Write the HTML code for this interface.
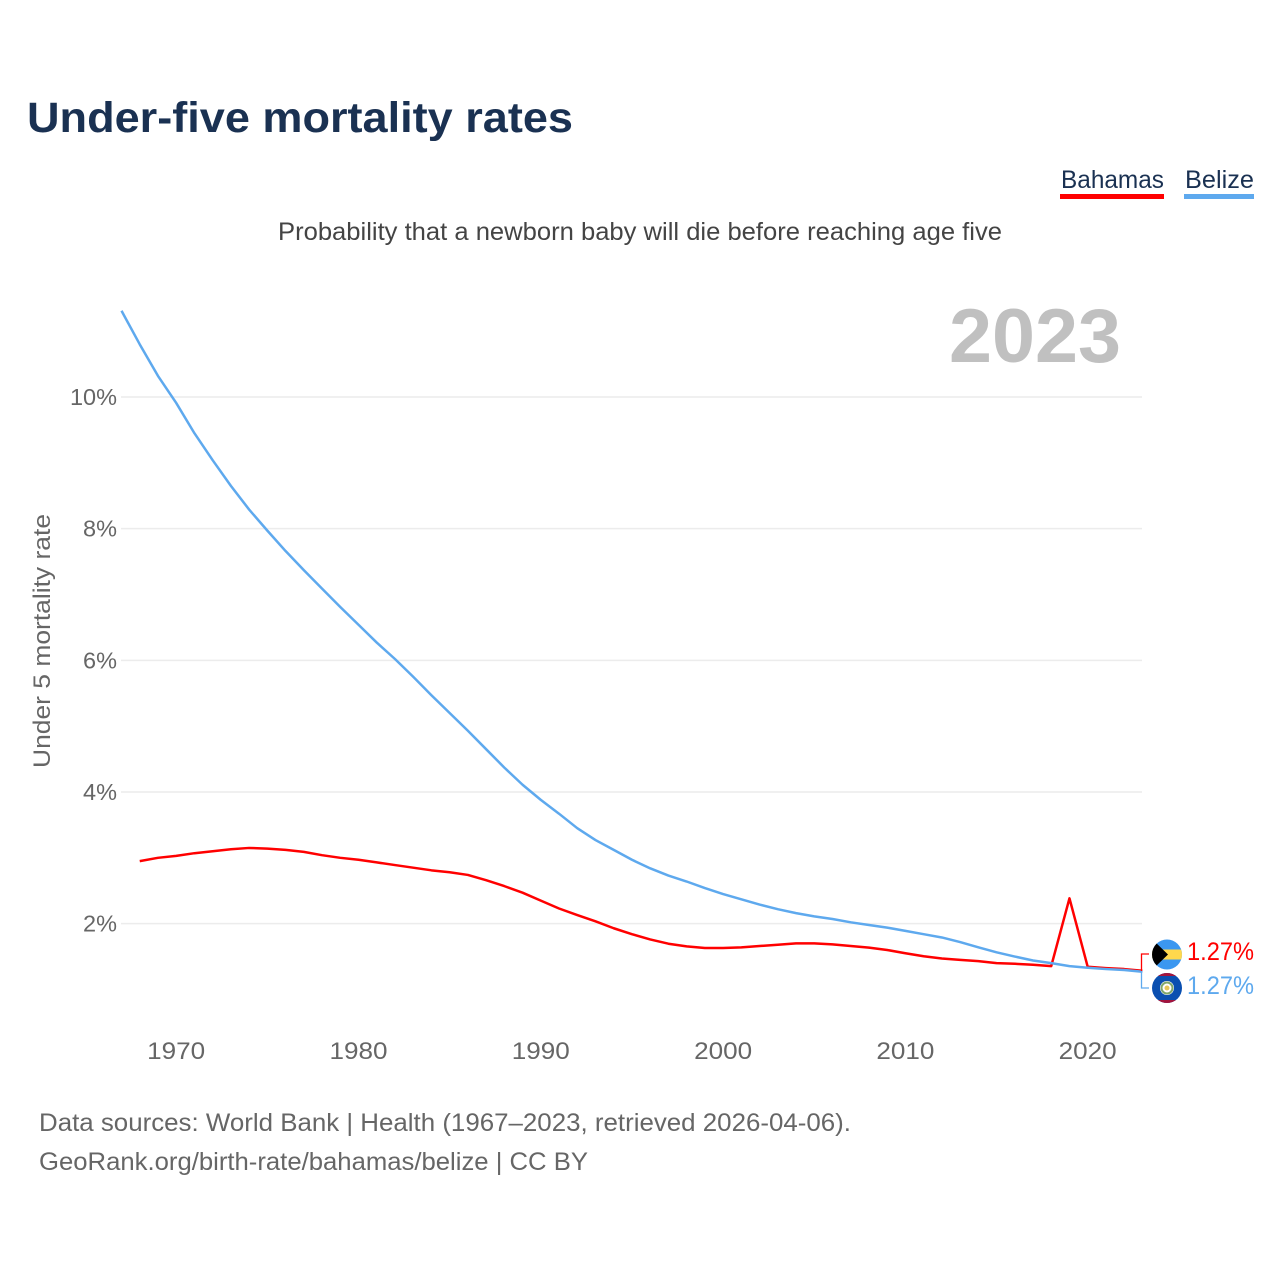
<!DOCTYPE html>
<html lang="en">
<head>
<meta charset="utf-8">
<title>Under-five mortality rates</title>
<style>
html,body{margin:0;padding:0;background:#fff;}
svg{display:block;}
text{font-family:"Liberation Sans",sans-serif;}
</style>
</head>
<body>
<svg id="chart" xmlns="http://www.w3.org/2000/svg" width="1280" height="1280" viewBox="0 0 1280 1280">
  <rect width="1280" height="1280" fill="#fff"/>
  <text x="27" y="132" font-size="43" font-weight="700" fill="#1a3152" textLength="546" lengthAdjust="spacingAndGlyphs">Under-five mortality rates</text>
  <text x="1061" y="188" font-size="25" fill="#1a3152" textLength="103" lengthAdjust="spacingAndGlyphs">Bahamas</text>
  <rect x="1060" y="194" width="104" height="5" fill="#ff0000"/>
  <text x="1185" y="188" font-size="25" fill="#1a3152" textLength="69" lengthAdjust="spacingAndGlyphs">Belize</text>
  <rect x="1184" y="194" width="70" height="5" fill="#5ea9ee"/>
  <text x="278" y="240" font-size="25" fill="#444" textLength="724" lengthAdjust="spacingAndGlyphs">Probability that a newborn baby will die before reaching age five</text>
  <text x="949" y="362" font-size="76" font-weight="700" fill="#c0c0c0" textLength="172" lengthAdjust="spacingAndGlyphs">2023</text>
  <text transform="translate(50,641) rotate(-90)" text-anchor="middle" font-size="24" fill="#666" textLength="254" lengthAdjust="spacingAndGlyphs">Under 5 mortality rate</text>
  <g id="grid"></g>
  <g id="yticks"></g>
  <g id="xticks"></g>
  <g id="lines"></g>

  <polyline points="1149,954 1141.5,954 1141.5,971" fill="none" stroke="#ff0000" stroke-width="1.3"/>
  <polyline points="1141.5,971 1141.5,988 1149,988" fill="none" stroke="#5ea9ee" stroke-width="1.3"/>

  <defs>
    <clipPath id="flag-clip-a"><circle cx="1167" cy="954.5" r="15"/></clipPath>
    <clipPath id="flag-clip-b"><circle cx="1167" cy="988" r="15"/></clipPath>
  </defs>
  <g clip-path="url(#flag-clip-a)">
    <rect x="1152" y="939" width="30" height="31" fill="#3b97f0"/>
    <rect x="1152" y="949.5" width="30" height="10" fill="#ffd84d"/>
    <polygon points="1152,939 1168,954.5 1152,970" fill="#000"/>
  </g>
  <g clip-path="url(#flag-clip-b)">
    <rect x="1152" y="973" width="30" height="31" fill="#0a4fb0"/>
    <rect x="1152" y="973" width="30" height="3" fill="#a3143c"/>
    <rect x="1152" y="1000" width="30" height="4" fill="#a3143c"/>
    <circle cx="1167" cy="988" r="7" fill="#fff"/>
    <circle cx="1167" cy="988" r="5.5" fill="none" stroke="#7fa66a" stroke-width="2"/>
    <circle cx="1167" cy="988" r="2.5" fill="#e6c65a"/>
  </g>
  <text x="1187" y="960" font-size="25" fill="#ff0000" textLength="67" lengthAdjust="spacingAndGlyphs">1.27%</text>
  <text x="1187" y="994" font-size="25" fill="#5ea9ee" textLength="67" lengthAdjust="spacingAndGlyphs">1.27%</text>

  <text x="39" y="1131" font-size="25" fill="#666" textLength="812" lengthAdjust="spacingAndGlyphs">Data sources: World Bank | Health (1967–2023, retrieved 2026-04-06).</text>
  <text x="39" y="1170" font-size="25" fill="#666" textLength="549" lengthAdjust="spacingAndGlyphs">GeoRank.org/birth-rate/bahamas/belize | CC BY</text>
</svg>
<script>
const yTickValues = [2, 4, 6, 8, 10];
const xTickYears = [1970, 1980, 1990, 2000, 2010, 2020];
const belizeStartYear = 1967;
const belizeValues = [11.31, 10.80, 10.32, 9.91, 9.45, 9.04, 8.65, 8.29, 7.97, 7.66, 7.37, 7.09, 6.81, 6.54, 6.27, 6.02, 5.75, 5.47, 5.20, 4.93, 4.65, 4.37, 4.11, 3.88, 3.67, 3.45, 3.27, 3.12, 2.97, 2.84, 2.73, 2.64, 2.54, 2.45, 2.37, 2.29, 2.22, 2.16, 2.11, 2.07, 2.02, 1.98, 1.94, 1.89, 1.84, 1.79, 1.72, 1.64, 1.565, 1.50, 1.44, 1.40, 1.355, 1.33, 1.31, 1.295, 1.27];
const bahamasStartYear = 1968;
const bahamasValues = [2.95, 3.00, 3.03, 3.07, 3.10, 3.13, 3.15, 3.14, 3.12, 3.09, 3.04, 3.00, 2.97, 2.93, 2.89, 2.85, 2.81, 2.78, 2.74, 2.66, 2.57, 2.47, 2.35, 2.23, 2.13, 2.035, 1.93, 1.84, 1.76, 1.695, 1.655, 1.63, 1.63, 1.64, 1.66, 1.68, 1.70, 1.70, 1.685, 1.66, 1.635, 1.60, 1.55, 1.505, 1.47, 1.45, 1.43, 1.40, 1.39, 1.375, 1.355, 2.385, 1.345, 1.325, 1.31, 1.285];

const NS = 'http://www.w3.org/2000/svg';
const xScale = year => 176.2 + (year - 1970) * 18.23;
const yScale = value => 1055.3 - value * 65.83;

function make(tag, attrs, parent, content) {
  const el = document.createElementNS(NS, tag);
  for (const k in attrs) el.setAttribute(k, attrs[k]);
  if (content !== undefined) el.textContent = content;
  parent.appendChild(el);
  return el;
}

const grid = document.getElementById('grid');
const yticks = document.getElementById('yticks');
const xticks = document.getElementById('xticks');
const lines = document.getElementById('lines');

yTickValues.forEach(v => {
  const g = make('line', {x1: 121, x2: 1142, y1: yScale(v), y2: yScale(v), stroke: '#ececec', 'stroke-width': 1.5}, grid);
  
  
  const t = make('text', {x: 117, y: yScale(v) + 8, 'text-anchor': 'end', 'font-size': 23.5, fill: '#666'}, yticks, v + '%');
  
  
});

xTickYears.forEach(y => {
  const t = make('text', {x: xScale(y), y: 1059, 'text-anchor': 'middle', 'font-size': 24, fill: '#666', textLength: 58, lengthAdjust: 'spacingAndGlyphs'}, xticks, String(y));
  
  
});

function pathFor(start, values) {
  return values.map((v, i) => (i ? 'L' : 'M') + xScale(start + i).toFixed(2) + ' ' + yScale(v).toFixed(2)).join(' ');
}

const bahamasLine = make('path', {d: pathFor(bahamasStartYear, bahamasValues), fill: 'none', stroke: '#ff0000', 'stroke-width': 2.5, 'stroke-linejoin': 'round'}, lines);



const belizeLine = make('path', {d: pathFor(belizeStartYear, belizeValues), fill: 'none', stroke: '#5ea9ee', 'stroke-width': 2.5, 'stroke-linejoin': 'round'}, lines);


</script>
</body>
</html>
